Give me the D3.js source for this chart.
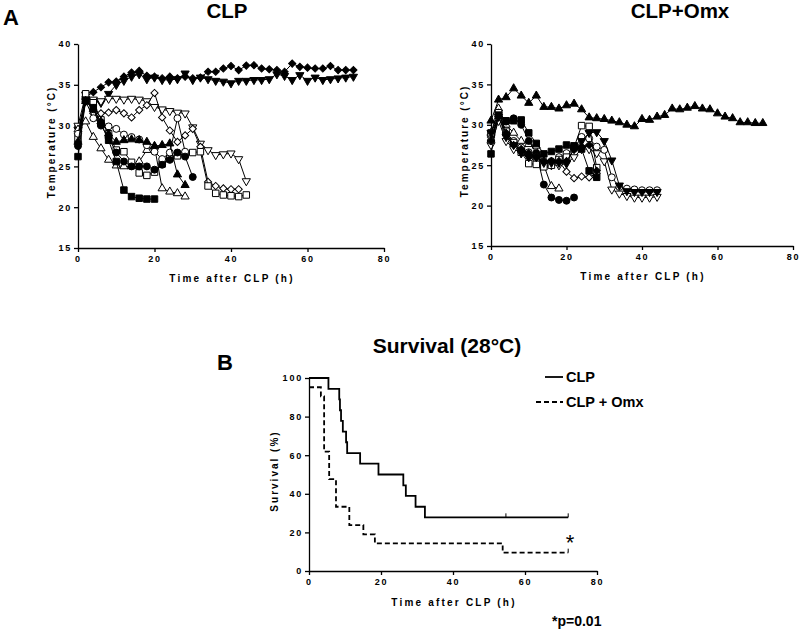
<!DOCTYPE html>
<html>
<head>
<meta charset="utf-8">
<script src="https://cdn.jsdelivr.net/npm/d3@7"></script>
<style>
body { margin: 0; background: #fff; }
text { font-family: Arial, "Liberation Sans", sans-serif; font-weight: bold; fill: #000; }
</style>
</head>
<body>
<script>
// sampling times (h), every series starts at 0 and uses as many as it has values
const hours = [0, 2, 4, 6, 8, 10, 12, 14, 16, 18, 20, 22, 24, 26, 28, 30, 32, 34, 36,
  38, 40, 42, 44, 46, 48, 50, 52, 54, 56, 58, 60, 62, 64, 66, 68, 70, 72];

// CLP temperatures (°C)
const clpFDiamond = [28.0, 33.5, 34.1, 34.7, 35.3, 35.4, 36.0, 36.5, 36.7, 36.1, 36.0, 35.8, 36.0, 35.8, 36.0, 35.8, 35.9, 36.6, 36.6, 37.0, 37.3, 36.8, 37.35, 37.4, 37.0, 36.9, 36.8, 36.6, 37.6, 37.2, 37.1, 37.0, 37.0, 37.3, 36.8, 36.8, 36.8];
const clpFDown = [29.5, 33.0, 33.0, 32.8, 33.9, 35.0, 35.5, 36.0, 36.3, 35.7, 35.9, 35.6, 35.6, 35.7, 36.4, 35.6, 35.9, 35.7, 35.5, 35.4, 35.2, 35.5, 35.5, 35.6, 35.6, 35.7, 36.3, 36.1, 35.6, 36.2, 35.5, 35.9, 35.6, 35.7, 35.8, 35.9, 36.0];
const clpODown = [30.0, 33.8, 33.2, 33.0, 33.3, 33.3, 33.2, 33.3, 33.2, 33.0, 32.3, 32.0, 31.8, 31.6, 31.5, 29.8, 27.8, 27.0, 26.4, 26.5, 26.6, 25.9, 23.2];
const clpODiamond = [29.0, 33.5, 31.5, 31.5, 31.6, 31.9, 31.5, 31.0, 31.9, 32.5, 34.0, 31.0, 29.4, 28.0, 28.8, 29.6, 27.4, 23.1, 22.6, 22.3, 22.2, 22.2];
const clpOCircle = [29.0, 33.0, 30.9, 30.2, 29.9, 29.6, 28.9, 28.6, 28.3, 27.6, 26.8, 25.9, 26.7, 30.9, 26.8];
const clpFCircle = [27.5, 33.0, 32.0, 30.0, 28.5, 26.7, 25.6, 25.0, 25.0, 25.0, 24.6, 25.2, 25.8, 26.7, 26.2, 23.7];
const clpFTri = [28.0, 33.0, 32.0, 30.5, 29.0, 28.0, 28.2, 28.3, 28.2, 28.0, 27.5, 27.6, 27.8, 24.0, 22.7];
const clpFSquare = [26.2, 33.1, 32.2, 30.3, 28.2, 25.6, 22.1, 21.3, 21.1, 21.0, 21.0];
const clpOSquare = [28.5, 33.9, 32.8, 30.7, 29.0, 27.0, 26.8, 25.5, 24.2, 23.9, 24.3, 25.3, 26.0, 26.3, 26.5, 26.7, 26.8, 22.6, 21.7, 21.5, 21.4, 21.3, 21.5];
const clpOTri = [29.5, 30.5, 28.6, 27.2, 25.8, 25.1, 25.0, 25.0, 25.6, 27.0, 27.4, 22.3, 21.9, 21.7, 21.3];

// CLP+Omx temperatures (°C)
const omxFTri = [30.5, 33.1, 33.4, 34.5, 33.6, 32.7, 33.6, 32.2, 32.2, 32.0, 32.4, 32.6, 31.9, 30.9, 30.8, 30.7, 30.5, 30.3, 30.0, 29.8, 30.7, 30.6, 31.0, 31.2, 32.0, 31.9, 32.1, 32.3, 32.0, 31.9, 31.4, 31.0, 30.8, 30.3, 30.3, 30.2, 30.2];
const omxFCircle = [28.0, 31.0, 30.4, 30.8, 30.0, 28.0, 26.5, 22.6, 21.0, 20.7, 20.6, 21.0];
const omxOTri = [29.0, 32.0, 30.0, 29.0, 28.0, 27.6, 27.4, 25.0, 22.4, 22.1];
const omxODiamond = [28.5, 31.0, 29.0, 27.5, 26.8, 26.2, 26.0, 25.5, 25.4, 25.5, 24.2, 23.4, 23.6, 23.5, 24.0];
const omxFSquare = [26.4, 31.2, 30.5, 30.5, 30.6, 29.0, 27.7, 26.4, 26.7, 27.0, 27.5, 27.4, 27.0, 24.3, 23.5];
const omxOSquare = [29.0, 31.5, 29.2, 27.8, 26.6, 25.2, 25.1, 24.8, 25.0, 25.7, 26.0, 27.2, 29.9, 29.8, 24.7];
const omxOCircle = [28.0, 31.5, 29.0, 28.0, 27.2, 26.6, 26.0, 25.5, 25.5, 26.0, 26.5, 27.0, 28.5, 28.3, 27.3, 26.9, 23.5, 22.3, 22.1, 22.0, 21.9, 21.9, 21.9];
const omxODown = [27.5, 30.5, 28.0, 27.0, 26.5, 26.0, 25.5, 25.0, 25.0, 25.0, 25.2, 26.0, 27.0, 27.0, 26.5, 25.5, 22.0, 21.5, 21.2, 21.0, 21.0, 21.0, 21.1];
const omxFDown = [29.0, 31.0, 28.5, 27.5, 26.5, 26.0, 26.0, 25.3, 25.3, 25.3, 25.3, 27.0, 28.0, 29.0, 29.1, 28.0, 25.6, 22.5, 21.8, 21.7, 21.7, 21.7, 21.7];
const omxFDiamond = [28.0, 31.0, 29.0, 27.5, 27.0, 26.5, 26.0, 25.5, 25.5, 25.5, 25.5, 27.0, 27.3, 27.5, 24.3];

// survival (%) step curves
const survClpTime = [0, 5.4, 8.4, 8.6, 8.9, 9.4, 10.3, 10.6, 14.2, 19.3, 26.2, 26.9, 29.6, 32.2, 72];
const survClpPct = [100, 94.4, 88.9, 83.3, 77.8, 72.2, 66.7, 61.1, 55.6, 50.0, 44.4, 38.9, 33.3, 27.8, 27.8];
const survOmxTime = [0, 3.3, 4.2, 5.6, 7.5, 11.2, 15.1, 18.3, 53.8, 72];
const survOmxPct = [95.2, 90.5, 61.9, 47.6, 33.3, 23.8, 19.0, 14.3, 9.5, 9.5];
const survClpCensor = [54.7, 72];
const survOmxCensor = [72];

const tempTicks = [15, 20, 25, 30, 35, 40];
const timeTicks = [0, 20, 40, 60, 80];
const survTicks = [0, 20, 40, 60, 80, 100];

const svg = d3.select("body").append("svg")
  .attr("width", 800)
  .attr("height", 631);

// marker shapes as GraphPad draws them
const markerPath = {
  circle: d3.symbol(d3.symbolCircle, 38)(),
  square: d3.symbol(d3.symbolSquare, 42)(),
  triangle: d3.symbol(d3.symbolTriangle, 29)(),
  down: d3.symbol(d3.symbolTriangle, 29)(),
  diamond: d3.symbol(d3.symbolSquare, 26)()
};
const markerRotate = { circle: 0, square: 0, triangle: 0, down: 180, diamond: 45 };

const styleAxis = (g) => {
  g.select(".domain").attr("stroke-width", 1.3);
  g.selectAll(".tick line").attr("stroke-width", 1.3);
  g.selectAll(".tick text")
    .style("font-size", "9px")
    .style("letter-spacing", "1.8px")
    .style("font-weight", "bold");
};

function tempPanel(opts) {
  const x = d3.scaleLinear().domain([0, 80]).range([opts.left, opts.right]);
  const y = d3.scaleLinear().domain([15, 40]).range([opts.bottom, opts.top]);

  svg.append("g")
    .attr("transform", "translate(0," + opts.bottom + ")")
    .call(d3.axisBottom(x).tickValues(timeTicks).tickSize(4).tickSizeOuter(0).tickPadding(4))
    .call(styleAxis);
  svg.append("g")
    .attr("transform", "translate(" + opts.left + ",0)")
    .call(d3.axisLeft(y).tickValues(tempTicks).tickSize(4).tickSizeOuter(0).tickPadding(2))
    .call(styleAxis);

  const line = d3.line().x((d, i) => x(hours[i])).y(d => y(d));

  opts.series.forEach(s => {
    svg.append("path")
      .attr("d", line(s.vals))
      .attr("fill", "none")
      .attr("stroke", "#000")
      .attr("stroke-width", 1);
    svg.append("g").selectAll("path")
      .data(s.vals)
      .enter()
      .append("path")
      .attr("d", markerPath[s.sym])
      .attr("transform", (d, i) => "translate(" + x(hours[i]) + "," + y(d) + ") rotate(" + markerRotate[s.sym] + ")")
      .attr("fill", s.filled ? "#000" : "#fff")
      .attr("stroke", "#000")
      .attr("stroke-width", 1);
  });

  svg.append("text")
    .attr("x", opts.titleX).attr("y", 18)
    .attr("text-anchor", "middle")
    .style("font-size", "20.5px")
    .text(opts.title);
  svg.append("text")
    .attr("x", (opts.left + opts.right) / 2 + 1).attr("y", opts.bottom + 34)
    .attr("text-anchor", "middle")
    .style("font-size", "10px")
    .style("letter-spacing", "2.2px")
    .text("Time after CLP (h)");
  svg.append("text")
    .attr("transform", "translate(" + (opts.left - 23) + "," + ((opts.top + opts.bottom) / 2 - 4) + ") rotate(-90)")
    .attr("text-anchor", "middle")
    .style("font-size", "10px")
    .style("letter-spacing", "2px")
    .text("Temperature (°C)");
}

tempPanel({
  left: 78, right: 384, top: 44, bottom: 248, titleX: 227, title: "CLP",
  series: [
    { sym: "diamond", filled: true, vals: clpFDiamond },
    { sym: "down", filled: true, vals: clpFDown },
    { sym: "down", filled: false, vals: clpODown },
    { sym: "diamond", filled: false, vals: clpODiamond },
    { sym: "triangle", filled: false, vals: clpOTri },
    { sym: "square", filled: false, vals: clpOSquare },
    { sym: "circle", filled: false, vals: clpOCircle },
    { sym: "triangle", filled: true, vals: clpFTri },
    { sym: "circle", filled: true, vals: clpFCircle },
    { sym: "square", filled: true, vals: clpFSquare }
  ]
});

tempPanel({
  left: 491, right: 793, top: 44, bottom: 246, titleX: 680, title: "CLP+Omx",
  series: [
    { sym: "triangle", filled: true, vals: omxFTri },
    { sym: "diamond", filled: false, vals: omxODiamond },
    { sym: "triangle", filled: false, vals: omxOTri },
    { sym: "circle", filled: true, vals: omxFCircle },
    { sym: "down", filled: false, vals: omxODown },
    { sym: "circle", filled: false, vals: omxOCircle },
    { sym: "square", filled: false, vals: omxOSquare },
    { sym: "diamond", filled: true, vals: omxFDiamond },
    { sym: "square", filled: true, vals: omxFSquare },
    { sym: "down", filled: true, vals: omxFDown }
  ]
});

svg.append("text").attr("x", 3).attr("y", 25).style("font-size", "22px").text("A");
svg.append("text").attr("x", 217).attr("y", 370).style("font-size", "22px").text("B");

// survival panel
const sx = d3.scaleLinear().domain([0, 80]).range([309, 597]);
const sy = d3.scaleLinear().domain([0, 100]).range([571, 378]);

svg.append("g")
  .attr("transform", "translate(0,571)")
  .call(d3.axisBottom(sx).tickValues(timeTicks).tickSize(4).tickSizeOuter(0).tickPadding(4))
  .call(styleAxis);
svg.append("g")
  .attr("transform", "translate(309,0)")
  .call(d3.axisLeft(sy).tickValues(survTicks).tickSize(4).tickSizeOuter(0).tickPadding(2))
  .call(styleAxis);

const stepLine = d3.line().curve(d3.curveStepAfter);

svg.append("path")
  .attr("d", stepLine(survClpTime.map((t, i) => [sx(t), sy(survClpPct[i])])))
  .attr("fill", "none").attr("stroke", "#000").attr("stroke-width", 1.8);
svg.append("path")
  .attr("d", stepLine(survOmxTime.map((t, i) => [sx(t), sy(survOmxPct[i])])))
  .attr("fill", "none").attr("stroke", "#000").attr("stroke-width", 1.8)
  .attr("stroke-dasharray", "5,3");

svg.selectAll(".censor-clp")
  .data(survClpCensor)
  .enter().append("line")
  .attr("x1", d => sx(d)).attr("x2", d => sx(d))
  .attr("y1", sy(27.8)).attr("y2", sy(27.8) - 4)
  .attr("stroke", "#000").attr("stroke-width", 1);
svg.selectAll(".censor-omx")
  .data(survOmxCensor)
  .enter().append("line")
  .attr("x1", d => sx(d)).attr("x2", d => sx(d))
  .attr("y1", sy(9.5)).attr("y2", sy(9.5) - 4)
  .attr("stroke", "#000").attr("stroke-width", 1);

svg.append("text")
  .attr("x", 447).attr("y", 353)
  .attr("text-anchor", "middle")
  .style("font-size", "21px")
  .text("Survival (28°C)");
svg.append("text")
  .attr("x", 454).attr("y", 606)
  .attr("text-anchor", "middle")
  .style("font-size", "10px")
  .style("letter-spacing", "2.2px")
  .text("Time after CLP (h)");
svg.append("text")
  .attr("transform", "translate(278,471) rotate(-90)")
  .attr("text-anchor", "middle")
  .style("font-size", "10px")
  .style("letter-spacing", "2px")
  .text("Survival (%)");

// legend
svg.append("line").attr("x1", 545).attr("x2", 563).attr("y1", 377).attr("y2", 377)
  .attr("stroke", "#000").attr("stroke-width", 1.8);
svg.append("text").attr("x", 566).attr("y", 382).style("font-size", "14.5px").text("CLP");
svg.append("line").attr("x1", 536).attr("x2", 563).attr("y1", 402).attr("y2", 402)
  .attr("stroke", "#000").attr("stroke-width", 1.8).attr("stroke-dasharray", "5,3");
svg.append("text").attr("x", 566).attr("y", 407).style("font-size", "14.5px").text("CLP + Omx");

svg.append("text").attr("x", 570).attr("y", 550).attr("text-anchor", "middle")
  .style("font-size", "22px").style("font-weight", "normal").text("*");
svg.append("text").attr("x", 552).attr("y", 626).style("font-size", "14px").text("*p=0.01");
</script>
</body>
</html>
